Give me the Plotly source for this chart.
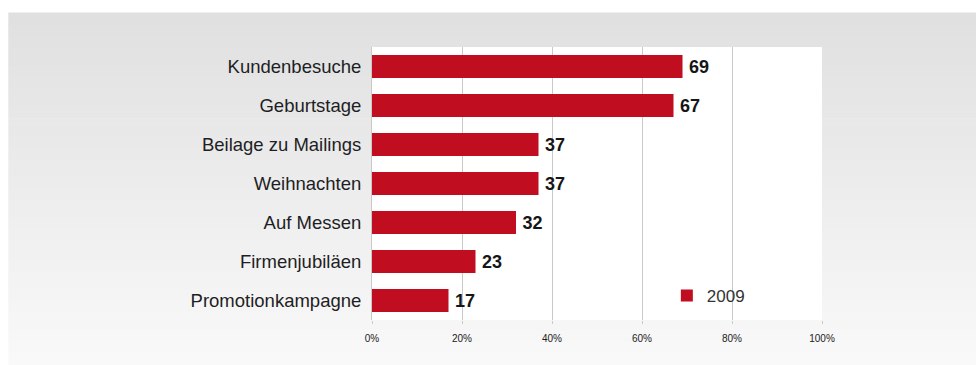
import plotly.graph_objects as go

# Survey results: occasions for giving promotional gifts (share in %)
categories = [
    "Kundenbesuche",
    "Geburtstage",
    "Beilage zu Mailings",
    "Weihnachten",
    "Auf Messen",
    "Firmenjubiläen",
    "Promotionkampagne",
]
values_2009 = [69, 67, 37, 37, 32, 23, 17]
series_name = "2009"
tick_values = [0, 20, 40, 60, 80, 100]
tick_labels = ["0%", "20%", "40%", "60%", "80%", "100%"]

W, H = 976, 365
# plot area in pixels
PL, PR, PT, PB = 371.5, 822.5, 46.5, 320.0
BAR_RED = "#c00d20"
GRID = "#c9c9c9"
FONT = "Liberation Sans, Arial, sans-serif"


def px_x(p):
    return (p - PL) / (PR - PL)


def px_y(p):
    return (PB - p) / (PB - PT)


shapes = []
# soft vertical grey gradient behind the chart panel
top, bottom = 12.0, 365.0
n = 60
c0, c1 = 224, 249
for i in range(n):
    y0 = top + (bottom - top) * i / n
    y1 = top + (bottom - top) * (i + 1) / n + 0.6
    c = round(c0 + (c1 - c0) * i / (n - 1))
    shapes.append(dict(
        type="rect", xref="paper", yref="paper", layer="below",
        x0=px_x(7), x1=px_x(W + 2), y0=px_y(y1), y1=px_y(y0),
        fillcolor=f"rgb({c},{c},{c})", line=dict(width=0),
    ))
# white plotting panel
shapes.append(dict(
    type="rect", xref="paper", yref="paper", layer="below",
    x0=0, x1=1, y0=0, y1=1, fillcolor="white", line=dict(width=0),
))

fig = go.Figure()
fig.add_trace(go.Bar(
    x=values_2009,
    y=categories,
    orientation="h",
    name=series_name,
    marker=dict(color=BAR_RED, line=dict(width=0)),
    text=["\u2009" + str(v) for v in values_2009],
    textposition="outside",
    textfont=dict(family=FONT, size=18, color="#161616", weight="bold"),
    cliponaxis=False,
    showlegend=True,
))

fig.update_layout(
    width=W,
    height=H,
    margin=dict(l=PL, r=W - PR, t=PT, b=H - PB, pad=0),
    paper_bgcolor="white",
    plot_bgcolor="white",
    bargap=0.41,
    shapes=shapes,
    font=dict(family=FONT, color="#222222"),
    xaxis=dict(
        range=[0, 100],
        tickmode="array",
        tickvals=tick_values,
        ticktext=tick_labels,
        tickfont=dict(family=FONT, size=10, color="#222222"),
        showgrid=True,
        gridcolor=GRID,
        gridwidth=1,
        zeroline=False,
        showline=False,
        ticks="outside",
        ticklen=3,
        tickcolor=GRID,
        ticklabelstandoff=6,
        fixedrange=True,
    ),
    yaxis=dict(
        categoryorder="array",
        categoryarray=categories,
        autorange="reversed",
        tickfont=dict(family=FONT, size=18.5, color="#1e1e24"),
        showgrid=False,
        zeroline=False,
        showline=True,
        linecolor=GRID,
        linewidth=1,
        ticks="",
        ticklabelstandoff=6,
        fixedrange=True,
    ),
    showlegend=True,
    legend=dict(
        x=px_x(667),
        y=px_y(296),
        xanchor="left",
        yanchor="middle",
        bgcolor="rgba(0,0,0,0)",
        borderwidth=0,
        font=dict(family=FONT, size=17, color="#333333"),
        itemwidth=30,
    ),
)

fig.write_html("out.html", config={"displayModeBar": False})
